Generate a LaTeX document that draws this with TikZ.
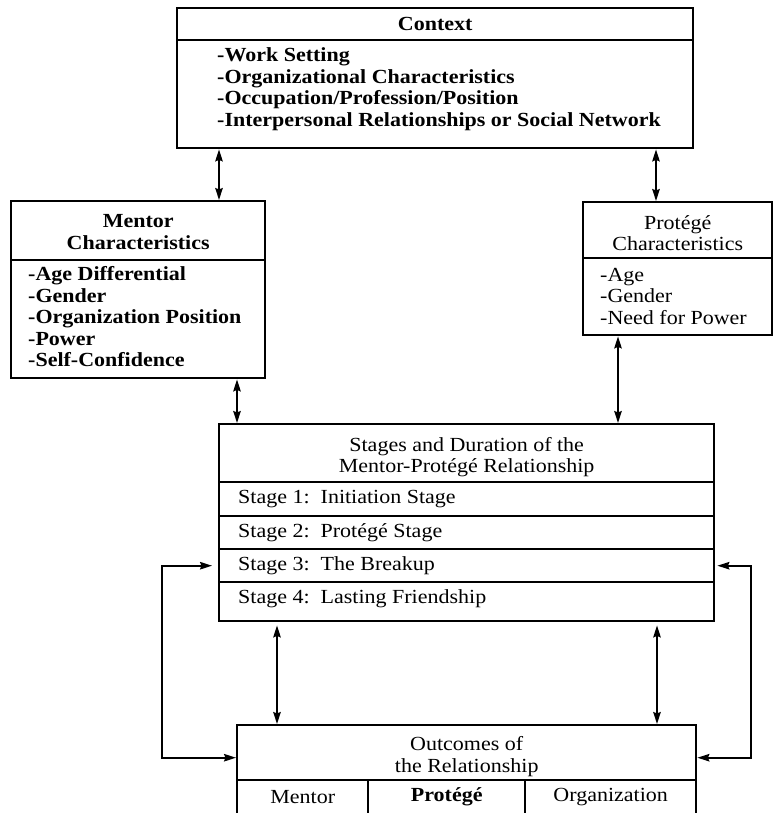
\documentclass[tikz,border=0pt]{standalone}
\usepackage{fontspec}
\setmainfont{Liberation Serif}[FakeStretch=1.1]
\usetikzlibrary{arrows.meta}
\begin{document}
\begin{tikzpicture}[x=1pt,y=1pt,
  cell/.style={draw, line width=2.4pt, inner sep=0pt, anchor=north west},
  txt/.style={inner sep=0pt, align=left, font=\fontsize{20}{21.5}\selectfont},
  txtb/.style={inner sep=0pt, align=left, font=\fontsize{20}{21.5}\selectfont\bfseries},
  ctxt/.style={inner sep=0pt, align=center, font=\fontsize{20}{21.5}\selectfont},
  ctxtb/.style={inner sep=0pt, align=center, font=\fontsize{20}{21.5}\selectfont\bfseries},
  tip/.tip={Stealth[length=12pt,width=7.5pt,inset=1.5pt]},
  arr/.style={line width=1.7pt, tip-tip}]
\useasboundingbox (0,0) rectangle (774,-813);
\clip (0,0) rectangle (774,-813);

% ---------- Context ----------
\node[cell, minimum width=516pt, minimum height=32pt] (ctxh) at (176,-7) {};
\node[cell, minimum width=516pt, minimum height=108pt] (ctxb) at (176,-39) {};
\node[ctxtb] (ctxt) at (ctxh.center) {Context};
\node[txtb, anchor=west] (ctxl) at (217,-89) {-Work Setting\\-Organizational Characteristics\\-Occupation/Profession/Position\\-Interpersonal Relationships or Social Network};

% ---------- Mentor ----------
\node[cell, minimum width=254pt, minimum height=59pt] (mh) at (10,-200) {};
\node[cell, minimum width=254pt, minimum height=118pt] (mb) at (10,-259) {};
\node[ctxtb] (mt) at ([yshift=-1.5pt]mh.center) {Mentor\\Characteristics};
\node[txtb, anchor=west] (ml) at (28,-317) {-Age Differential\\-Gender\\-Organization Position\\-Power\\-Self-Confidence};

% ---------- Protege ----------
\node[cell, minimum width=189pt, minimum height=56pt] (ph) at (582,-201) {};
\node[cell, minimum width=189pt, minimum height=77pt] (pb) at (582,-257) {};
\node[ctxt] (pt) at ([yshift=-3pt]ph.center) {Protégé\\Characteristics};
\node[txt, anchor=west] (pl) at (600,-296) {-Age\\-Gender\\-Need for Power};

% ---------- Stages ----------
\node[cell, minimum width=495pt, minimum height=58pt] (sh) at (218,-423) {};
\node[cell, minimum width=495pt, minimum height=34pt] (s1) at (218,-481) {};
\node[cell, minimum width=495pt, minimum height=33pt] (s2) at (218,-515) {};
\node[cell, minimum width=495pt, minimum height=33pt] (s3) at (218,-548) {};
\node[cell, minimum width=495pt, minimum height=39pt] (s4) at (218,-581) {};
\node[ctxt] (st) at ([yshift=-4pt]sh.center) {Stages and Duration of the\\Mentor-Protégé Relationship};
\node[txt, anchor=west] (s1t) at ([xshift=20pt]s1.west) {Stage 1:\ \ Initiation Stage};
\node[txt, anchor=west] (s2t) at ([xshift=20pt]s2.west) {Stage 2:\ \ Protégé Stage};
\node[txt, anchor=west] (s3t) at ([xshift=20pt]s3.west) {Stage 3:\ \ The Breakup};
\node[txt, anchor=west] (s4t) at ([xshift=20pt,yshift=3pt]s4.west) {Stage 4:\ \ Lasting Friendship};

% ---------- Outcomes ----------
\node[cell, minimum width=459pt, minimum height=55pt] (oh) at (236,-724) {};
\node[cell, minimum width=131pt, minimum height=70pt] (o1) at (236,-779) {};
\node[cell, minimum width=157pt, minimum height=70pt] (o2) at (367,-779) {};
\node[cell, minimum width=171pt, minimum height=70pt] (o3) at (524,-779) {};
\node[ctxt] (ot) at ([yshift=-4pt]oh.center) {Outcomes of\\the Relationship};
\node[ctxt] (o1t) at ([yshift=-18pt]o1.north) {Mentor};
\node[ctxtb] (o2t) at ([yshift=-18pt]o2.north) {Protégé};
\node[ctxt] (o3t) at ([yshift=-18pt]o3.north) {Organization};

% ---------- connector x positions ----------
\coordinate (xa) at (219,0);
\coordinate (xb) at (656,0);
\coordinate (xc) at (237,0);
\coordinate (xd) at (618,0);
\coordinate (xe) at (277,0);
\coordinate (xf) at (657,0);
\coordinate (xl) at (162,0);
\coordinate (xr) at (751,0);

\draw[arr] (ctxb.south -| xa) -- (mh.north -| xa);
\draw[arr] (ctxb.south -| xb) -- (ph.north -| xb);
\draw[arr] (mb.south -| xc) -- (sh.north -| xc);
\draw[arr] (pb.south -| xd) -- (sh.north -| xd);
\draw[arr] ([yshift=-3pt]s4.south -| xe) -- (oh.north -| xe);
\draw[arr] ([yshift=-3pt]s4.south -| xf) -- (oh.north -| xf);
\draw[arr] ([xshift=-6pt]s3.west) -- (s3.west -| xl) |- ([yshift=-5pt]oh.west);
\draw[arr] ([xshift=2pt]s3.east) -- (s3.east -| xr) |- ([yshift=-5pt]oh.east);
\end{tikzpicture}
\end{document}
